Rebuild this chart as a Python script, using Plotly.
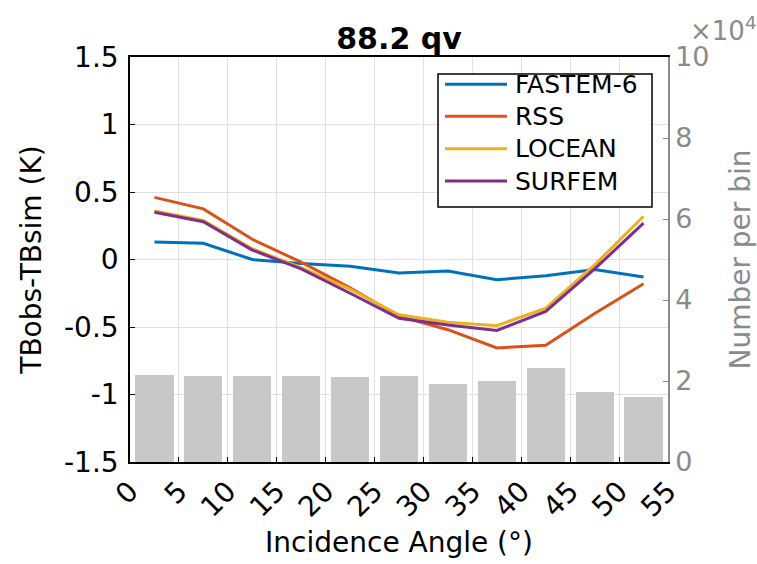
import plotly.graph_objects as go

# ---- data ----
angle_bins = [2.5, 7.5, 12.5, 17.5, 22.5, 27.5, 32.5, 37.5, 42.5, 47.5, 52.5]
fastem6 = [0.13, 0.12, 0.00, -0.03, -0.05, -0.10, -0.085, -0.15, -0.12, -0.075, -0.13]
rss = [0.46, 0.375, 0.15, -0.02, -0.21, -0.42, -0.52, -0.655, -0.635, -0.40, -0.18]
locean = [0.36, 0.29, 0.08, -0.06, -0.22, -0.41, -0.465, -0.49, -0.36, -0.04, 0.32]
surfem = [0.35, 0.28, 0.07, -0.07, -0.25, -0.435, -0.485, -0.525, -0.385, -0.07, 0.27]
counts = [21600, 21200, 21200, 21200, 21000, 21300, 19200, 19900, 23200, 17300, 16000]

series_names = ["FASTEM-6", "RSS", "LOCEAN", "SURFEM"]
series_colors = ["#0072BD", "#D95319", "#EDB120", "#7E2F8E"]

x_ticks = [0, 5, 10, 15, 20, 25, 30, 35, 40, 45, 50, 55]
left_ticks = [-1.5, -1, -0.5, 0, 0.5, 1, 1.5]
left_ticktext = ["-1.5", "-1", "-0.5", "0", "0.5", "1", "1.5"]
right_ticks = [0, 20000, 40000, 60000, 80000, 100000]
right_ticktext = ["0", "2", "4", "6", "8", "10"]

FONT = "DejaVu Sans"
GRAY = "#8a8a8a"

fig = go.Figure()
fig.add_trace(go.Bar(x=angle_bins, y=counts, width=3.9, marker_color="#c8c8c8",
                     marker_line_width=0, yaxis="y", showlegend=False))
for name, vals, col in zip(series_names, [fastem6, rss, locean, surfem], series_colors):
    fig.add_trace(go.Scatter(x=angle_bins, y=vals, mode="lines", name=name,
                             line=dict(color=col, width=3), yaxis="y2",
                             showlegend=False))

fig.update_layout(
    width=757, height=564,
    margin=dict(l=130, r=89, t=57, b=102),
    plot_bgcolor="white", paper_bgcolor="white",
    font=dict(family=FONT, size=27, color="black"),
    title=dict(text="<b>88.2 qv</b>", x=0.5, xref="paper", y=1 - 38 / 564,
               yref="container", yanchor="middle", xanchor="center",
               font=dict(size=30, family=FONT, color="black"), automargin=False),
    bargap=0,
    showlegend=False,
    xaxis=dict(range=[0, 55], tickvals=x_ticks, ticktext=[str(v) for v in x_ticks],
               tickangle=-45, ticks="inside", ticklen=5, tickcolor="black",
               showline=True, linecolor="black", linewidth=1.5, mirror=True,
               showgrid=True, gridcolor="#e0e0e0", gridwidth=1, zeroline=False,
               automargin=False,
               title=dict(text="Incidence Angle (°)", font=dict(size=28), standoff=10),
               tickfont=dict(size=28)),
    yaxis=dict(range=[0, 100000], side="right", tickvals=right_ticks,
               ticktext=right_ticktext, ticks="inside", ticklen=5, tickcolor=GRAY,
               showline=True, linecolor=GRAY, linewidth=1.5, showgrid=False,
               zeroline=False, tickfont=dict(color=GRAY, size=27), automargin=False,
               title=dict(text="Number per bin", font=dict(color=GRAY, size=28), standoff=22)),
    yaxis2=dict(range=[-1.5, 1.5], overlaying="y", side="left", tickvals=left_ticks,
                ticktext=left_ticktext, ticks="inside", ticklen=5, tickcolor="black",
                showline=True, linecolor="black", linewidth=1.5, showgrid=True,
                gridcolor="#e0e0e0", gridwidth=1, zeroline=False, automargin=False,
                tickfont=dict(size=28), ticklabelstandoff=4,
                title=dict(text="TBobs-TBsim (K)", font=dict(size=28), standoff=14)),
)

# legend box (drawn in paper coordinates)
lx0, lx1, ly0, ly1 = 0.5725, 0.9703, 0.6296, 0.958
fig.add_shape(type="rect", xref="paper", yref="paper", x0=lx0, x1=lx1, y0=ly0, y1=ly1,
              line=dict(color="black", width=1.5), fillcolor="white", layer="above")
row_y = [0.9326, 0.8536, 0.7736, 0.6938]
for name, col, yy in zip(series_names, series_colors, row_y):
    fig.add_shape(type="line", xref="paper", yref="paper", x0=0.5855, x1=0.7007,
                  y0=yy, y1=yy, line=dict(color=col, width=3), layer="above")
    fig.add_annotation(text=name, xref="paper", yref="paper", x=0.7119, y=yy,
                       xanchor="left", yanchor="middle", showarrow=False,
                       font=dict(size=25, color="black", family=FONT))

fig.add_annotation(text="×10<sup>4</sup>", xref="paper", yref="paper", x=1, y=1,
                   xanchor="left", yanchor="bottom", xshift=20, yshift=9,
                   showarrow=False, font=dict(size=26, color=GRAY, family=FONT))

fig.write_html("out.html")
